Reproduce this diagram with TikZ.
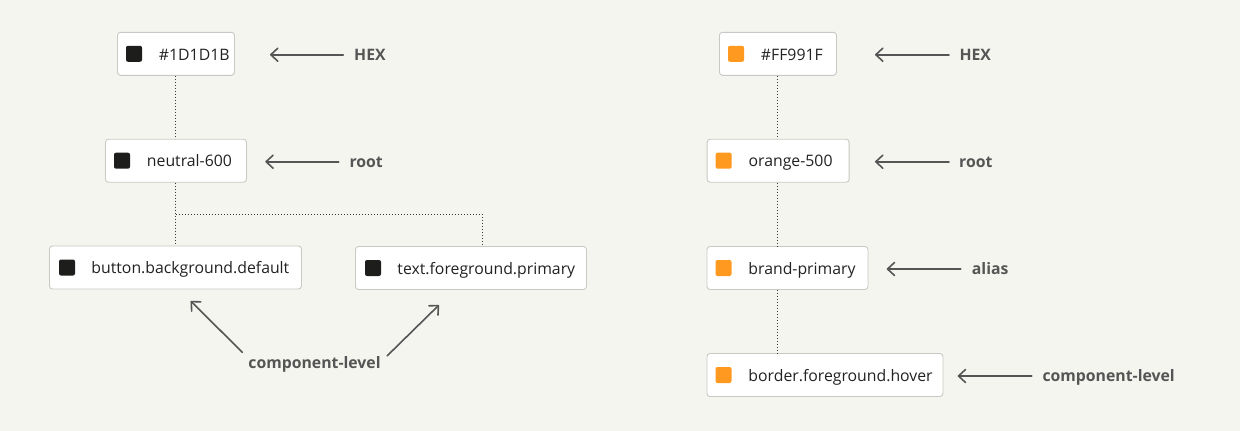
\documentclass[tikz,border=0pt]{standalone}
\usepackage{fontspec}
\setmainfont{Open Sans}
\usetikzlibrary{arrows.meta}
\definecolor{bgc}{HTML}{F5F5F0}
\definecolor{boxline}{HTML}{C8C8C4}
\definecolor{txtc}{HTML}{222222}
\definecolor{labc}{HTML}{555555}
\definecolor{dotc}{HTML}{3A3A3A}
\definecolor{darksw}{HTML}{1D1D1B}
\definecolor{orangesw}{HTML}{FF991F}
\begin{document}
\begin{tikzpicture}[x=1pt,y=-1pt,
  tokbox/.style={draw=boxline, line width=0.9pt, fill=white, rounded corners=3pt,
    minimum height=43pt, inner sep=0pt, anchor=west, text=txtc,
    font=\fontsize{15.8}{18}\selectfont, text height=13pt, text depth=0.5pt},
  swd/.style={fill=darksw, rounded corners=2pt, minimum size=16pt, inner sep=0pt},
  swo/.style={fill=orangesw, rounded corners=2pt, minimum size=16pt, inner sep=0pt},
  lab/.style={anchor=west, inner sep=0pt, text=labc, font=\fontsize{15.8}{18}\selectfont\bfseries,
    text height=11pt, text depth=0pt},
  arr/.style={draw=labc, line width=1.6pt, line cap=round,
    -{Straight Barb[length=7pt,width=13pt,line width=1.6pt,round]}},
  dotl/.style={draw=dotc, line width=1pt, dash pattern=on 1.4pt off 1.6pt}]
\fill[bgc] (0,0) rectangle (1240,431);
\useasboundingbox (0,0) rectangle (1240,431);

% ---------- left tree ----------
\node[tokbox] (hexA) at (117,53.8) {\makebox[117pt][l]{\hspace*{41.5pt}\#1D1D1B}};
\node[tokbox] (rootA) at (105,160.7) {\makebox[141pt][l]{\hspace*{41.5pt}neutral-600}};
\node[tokbox] (bbd) at (49,267.5) {\makebox[252pt][l]{\hspace*{42pt}button.background.default}};
\node[tokbox] (tfp) at (355,268) {\makebox[231pt][l]{\hspace*{42pt}text.foreground.primary}};

\node[swd] (sqA1) at ([xshift=17pt]hexA.west) {};
\node[swd] (sqA2) at ([xshift=17pt]rootA.west) {};
\node[swd] (sqA3) at ([xshift=18pt]bbd.west) {};
\node[swd] (sqA4) at ([xshift=18pt]tfp.west) {};

\draw[dotl] (hexA.south) -- (hexA.south |- rootA.north);
\draw[dotl] (rootA.south) -- (rootA.south |- bbd.north);
\coordinate (tj) at (482,214);
\draw[dotl] (rootA.south |- tj) -| ([xshift=127pt]tfp.north west);

\node[lab] (lhexA) at (354,54.7) {HEX};
\node[lab] (lrootA) at (349.3,161.7) {root};
\coordinate (thexA) at (270,54.7);
\coordinate (trootA) at (265.3,161.7);
\draw[arr] ([xshift=-10.7pt]lhexA.west) -- (thexA);
\draw[arr] ([xshift=-10.6pt]lrootA.west) -- (trootA);

\node[lab, anchor=center] (lcompA) at (314.5,363.3) {component-level};
\coordinate (cA1) at (242.3,352.3);
\coordinate (cA2) at (387.3,355.7);
\coordinate (tA1) at (190.7,301);
\coordinate (tA2) at (439,305);
\draw[arr] (cA1) -- (tA1);
\draw[arr] (cA2) -- (tA2);

% ---------- right tree ----------
\node[tokbox] (hexB) at (719,53.8) {\makebox[117pt][l]{\hspace*{41.5pt}\#FF991F}};
\node[tokbox] (rootB) at (706.7,160.7) {\makebox[142pt][l]{\hspace*{41.5pt}orange-500}};
\node[tokbox] (aliasB) at (706.5,268) {\makebox[161pt][l]{\hspace*{41.5pt}brand-primary}};
\node[tokbox] (compB) at (706.5,375) {\makebox[236pt][l]{\hspace*{41.5pt}border.foreground.hover}};

\node[swo] (sqB1) at ([xshift=17pt]hexB.west) {};
\node[swo] (sqB2) at ([xshift=17pt]rootB.west) {};
\node[swo] (sqB3) at ([xshift=17pt]aliasB.west) {};
\node[swo] (sqB4) at ([xshift=17pt]compB.west) {};

\draw[dotl] (hexB.south) -- (hexB.south |- rootB.north);
\draw[dotl] (hexB.south |- rootB.south) -- (hexB.south |- aliasB.north);
\draw[dotl] (hexB.south |- aliasB.south) -- (hexB.south |- compB.north);

\node[lab] (lhexB) at (959.3,54.7) {HEX};
\node[lab] (lrootB) at (959,161.7) {root};
\node[lab] (laliasB) at (971.7,269) {alias};
\node[lab] (lcompB) at (1042.3,376) {component-level};
\coordinate (thexB) at (875,54.7);
\coordinate (trootB) at (875,161.7);
\coordinate (taliasB) at (886.7,269);
\coordinate (tcompB) at (957.7,376);
\draw[arr] ([xshift=-10.3pt]lhexB.west) -- (thexB);
\draw[arr] ([xshift=-10pt]lrootB.west) -- (trootB);
\draw[arr] ([xshift=-11pt]laliasB.west) -- (taliasB);
\draw[arr] ([xshift=-10.6pt]lcompB.west) -- (tcompB);
\end{tikzpicture}
\end{document}
